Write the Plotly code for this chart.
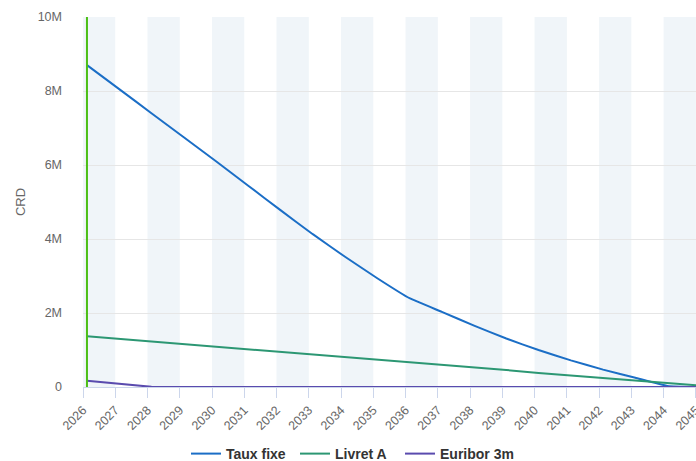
import plotly.graph_objects as go

dates = ["2026-02-15", "2027-02-15", "2028-02-15", "2029-02-15", "2030-02-15",
         "2031-02-15", "2032-02-15", "2033-02-15", "2034-02-15", "2035-02-15",
         "2036-02-15", "2037-02-15", "2038-02-15", "2039-02-15", "2040-02-15",
         "2041-02-15", "2042-02-15", "2043-02-15", "2044-02-15", "2045-02-15"]

taux_fixe = [8.70e6, 8.05e6, 7.40e6, 6.75e6, 6.10e6, 5.44e6, 4.78e6, 4.13e6, 3.52e6, 2.94e6,
             2.40e6, 2.03e6, 1.66e6, 1.31e6, 1.00e6, 0.72e6, 0.47e6, 0.25e6, 0.03e6, 0.0]
livret_a = [1.37e6, 1.30e6, 1.24e6, 1.17e6, 1.10e6, 1.03e6, 0.96e6, 0.90e6, 0.83e6, 0.76e6,
            0.68e6, 0.61e6, 0.53e6, 0.46e6, 0.38e6, 0.31e6, 0.24e6, 0.18e6, 0.11e6, 0.04e6]
euribor = [0.17e6, 0.08e6, 0.005e6, 0.0, 0.0, 0.0, 0.0, 0.0, 0.0, 0.0,
           0.0, 0.0, 0.0, 0.0, 0.0, 0.0, 0.0, 0.0, 0.0, 0.0]

series_names = ["Taux fixe", "Livret A", "Euribor 3m"]
series_colors = ["#1b6ec6", "#2c9773", "#5a4bae"]
series_shapes = ["spline", "linear", "linear"]
legend_widths = [64, 60, 80]
today = "2026-02-15"
band_years = [2026, 2028, 2030, 2032, 2034, 2036, 2038, 2040, 2042, 2044]
y_ticks = [0, 2e6, 4e6, 6e6, 8e6, 10e6]
y_labels = ["0", "2M", "4M", "6M", "8M", "10M"]

FONT = "Liberation Sans, Arial, Helvetica, sans-serif"
W, H = 696, 461

fig = go.Figure()
for name, vals, col, shp, lw in zip(series_names, [taux_fixe, livret_a, euribor],
                                    series_colors, series_shapes, legend_widths):
    line = dict(color=col, width=2, shape=shp)
    if shp == "spline":
        line["smoothing"] = 0.4
    fig.add_trace(go.Scatter(x=dates, y=vals, mode="lines", name=name, line=line,
                             legendwidth=lw))

shapes = []
for y in band_years:
    shapes.append(dict(type="rect", xref="x", yref="paper",
                       x0=f"{y}-01-01", x1=f"{y+1}-01-01", y0=0, y1=1,
                       fillcolor="#f0f5f9", line=dict(width=0), layer="below"))
shapes.append(dict(type="line", xref="x", yref="paper", x0=today, x1=today, y0=0, y1=1,
                   line=dict(color="#4cbf16", width=2), layer="above"))

fig.update_layout(
    width=W, height=H,
    margin=dict(l=83, r=0, t=17, b=74),
    paper_bgcolor="white", plot_bgcolor="white",
    font=dict(family=FONT, size=12, color="#666666"),
    shapes=shapes,
    showlegend=True,
    legend=dict(orientation="h", xref="container", x=186 / W, xanchor="left",
                yref="container", y=(H - 454) / H, yanchor="middle",
                font=dict(family=FONT, size=14, color="#333333", weight="bold"),
                tracegroupgap=0),
    xaxis=dict(type="date", range=["2026-01-01", "2045-01-02"], automargin=False,
               dtick="M12", tick0="2026-01-01", tickformat="%Y", tickangle=-45,
               ticklabeloverflow="allow",
               showgrid=False, showline=True, linecolor="#ccd6eb", linewidth=1,
               ticks="outside", ticklen=10, tickcolor="#ccd6eb",
               zeroline=False, layer="below traces",
               tickfont=dict(family=FONT, size=12.5, color="#666666")),
    yaxis=dict(range=[0, 10e6], tickvals=y_ticks, ticktext=y_labels, automargin=False,
               showgrid=True, gridcolor="#e6e6e6", gridwidth=1,
               zeroline=False, showline=False, ticks="", ticklabelstandoff=20,
               title=dict(text="CRD", font=dict(family=FONT, size=13, color="#666666"), standoff=9),
               tickfont=dict(family=FONT, size=12.5, color="#666666")),
)

fig.write_html("out.html",
               config={"displayModeBar": False},
               post_script="document.documentElement.style.margin='0';"
                           "document.body.style.margin='0';"
                           "document.body.style.overflow='hidden';")
